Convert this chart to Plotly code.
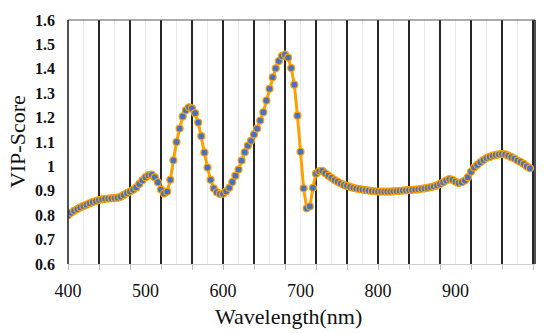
import plotly.graph_objects as go

wavelength = list(range(400, 1000, 4))
vip = [
    0.800, 0.810, 0.818, 0.825, 0.832, 0.838, 0.843, 0.849, 0.854, 0.858,
    0.862, 0.865, 0.867, 0.868, 0.869, 0.870, 0.872, 0.876, 0.883, 0.891,
    0.897, 0.904, 0.914, 0.928, 0.943, 0.956, 0.964, 0.966, 0.955, 0.935,
    0.905, 0.889, 0.897, 0.945, 1.025, 1.100, 1.155, 1.205, 1.230, 1.242,
    1.238, 1.218, 1.180, 1.124, 1.057, 0.995, 0.945, 0.910, 0.894, 0.887,
    0.888, 0.898, 0.912, 0.936, 0.962, 0.987, 1.024, 1.058, 1.085, 1.105,
    1.131, 1.155, 1.188, 1.222, 1.270, 1.318, 1.365, 1.402, 1.432, 1.452,
    1.458, 1.446, 1.403, 1.335, 1.208, 1.060, 0.910, 0.828, 0.836, 0.912,
    0.970, 0.980, 0.982, 0.972, 0.962, 0.953, 0.944, 0.937, 0.930, 0.924,
    0.920, 0.916, 0.912, 0.909, 0.907, 0.905, 0.903, 0.901, 0.899, 0.898,
    0.897, 0.897, 0.897, 0.897, 0.897, 0.898, 0.899, 0.900, 0.901, 0.902,
    0.903, 0.904, 0.905, 0.906, 0.908, 0.910, 0.912, 0.915, 0.918, 0.922,
    0.928, 0.935, 0.942, 0.948, 0.945, 0.937, 0.932, 0.935, 0.942, 0.956,
    0.978, 0.995, 1.006, 1.017, 1.026, 1.034, 1.039, 1.044, 1.047, 1.049,
    1.050, 1.049, 1.044, 1.038, 1.032, 1.024, 1.018, 1.010, 1.000, 0.992,
]
assert len(vip) == len(wavelength)

x_labels = [400, 500, 600, 700, 800, 900]

SERIF = "Liberation Serif"
ORANGE = "#FFA000"
BLUE = "#4472C4"

fig = go.Figure()
fig.add_trace(go.Scatter(
    x=wavelength, y=vip, mode="lines+markers",
    line=dict(color=ORANGE, width=3),
    marker=dict(size=7, color=BLUE, line=dict(color=ORANGE, width=1.2)),
    showlegend=False, hoverinfo="skip",
))
# invisible trace to carry label axis
fig.add_trace(go.Scatter(x=[400, 1000], y=[0.6, 0.6], xaxis="x2", mode="markers",
                         marker=dict(opacity=0), showlegend=False, hoverinfo="skip"))

XR = [400, 1002.5]
fig.update_layout(
    width=550, height=333,
    margin=dict(l=68, r=15, t=16, b=69),
    paper_bgcolor="white", plot_bgcolor="white",
    xaxis=dict(
        range=XR, tick0=400, dtick=40, showticklabels=False,
        ticks="outside", ticklen=5, tickcolor="#bfbfbf", tickwidth=1,
        showgrid=True, gridcolor="#262626", gridwidth=1.6,
        showline=True, linecolor="#d0d0d0", linewidth=1.2,
        zeroline=False,
        minor=dict(dtick=20, tick0=400, showgrid=True, gridcolor="#ebebeb",
                   gridwidth=1, ticks=""),
    ),
    xaxis2=dict(
        range=XR, overlaying="x", side="bottom", anchor="y",
        tickvals=x_labels, ticktext=[str(v) for v in x_labels],
        ticks="", showgrid=False, showline=False, zeroline=False,
        tickfont=dict(family=SERIF, size=18, color="#111"),
        ticklabelstandoff=14,
    ),
    yaxis=dict(
        range=[0.6, 1.6], dtick=0.1, tick0=0.6, showgrid=False, zeroline=False,
        ticks="", showline=False,
        tickfont=dict(family=SERIF, size=16, color="#111", weight="bold"),
        ticklabelstandoff=12,
    ),
    shapes=[
        dict(type="line", xref="paper", yref="paper", x0=0, x1=1, y0=1, y1=1,
             line=dict(color="#595959", width=1.2)),
        dict(type="line", xref="paper", yref="paper", x0=1, x1=1, y0=0, y1=1,
             line=dict(color="#262626", width=1.6)),
        dict(type="line", xref="paper", yref="paper", x0=0, x1=0, y0=0, y1=1,
             line=dict(color="#262626", width=1.6)),
    ],
    annotations=[
        dict(text="VIP-Score", xref="paper", yref="paper", x=-0.109, y=0.5,
             xanchor="center", yanchor="middle", textangle=-90, showarrow=False,
             font=dict(family=SERIF, size=22, color="#111")),
        dict(text="Wavelength(nm)", xref="paper", yref="paper", x=0.473, y=-0.214,
             xanchor="center", yanchor="middle", showarrow=False,
             font=dict(family=SERIF, size=22, color="#111")),
    ],
)

fig.write_html(
    "out.html",
    config={"displayModeBar": False},
    post_script="document.body.style.margin='0';document.body.style.overflow='hidden';",
)
